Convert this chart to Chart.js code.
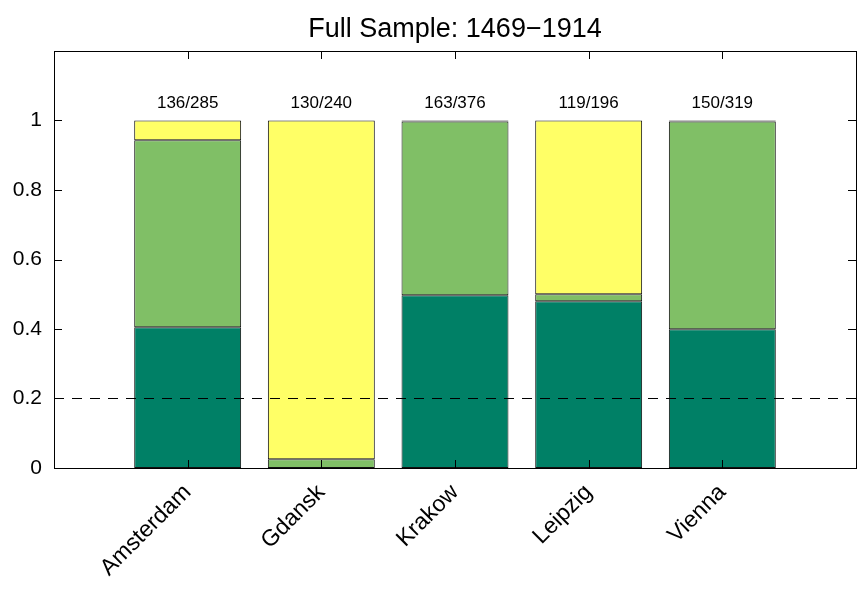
<!DOCTYPE html>
<html>
<head>
<meta charset="utf-8">
<title>Full Sample: 1469-1914</title>
<script src="https://cdn.jsdelivr.net/npm/chart.js@4.4.1/dist/chart.umd.min.js"></script>
<style>
    html, body { margin: 0; padding: 0; background: #fff; }
    #wrap { position: relative; width: 867px; height: 597px; }
</style>
</head>
<body>
<div id="wrap"><canvas id="chart" width="867" height="597"></canvas></div>
<script>
const cities = ['Amsterdam', 'Gdansk', 'Krakow', 'Leipzig', 'Vienna'];
const countLabels = ['136/285', '130/240', '163/376', '119/196', '150/319'];
const darkShare = [0.405, 0, 0.497, 0.48, 0.399];
const midShare = [0.538, 0.025, 0.5, 0.02, 0.598];
const topShare = [0.057, 0.975, 0.003, 0.5, 0.003];
const yTicks = [0, 0.2, 0.4, 0.6, 0.8, 1];
const refLevel = 0.2;

(function () {
    'use strict';

    const FONT = 'Liberation Sans, Arial, Helvetica, sans-serif';

    function points(values) {
        return values.map((v, i) => ({ x: i + 1, y: v }));
    }

    function barSet(label, values, color) {
        return {
            type: 'bar',
            label,
            data: points(values),
            backgroundColor: color,
            borderColor: '#111',
            borderWidth: 1,
            borderSkipped: false,
            barPercentage: 0.8,
            categoryPercentage: 1,
            order: 1
        };
    }

    // box, inward ticks and the count labels above the bars
    const frame = {
        id: 'frame',
        afterDatasetsDraw(chart) {
            const { ctx, chartArea: a, scales } = chart;
            const xs = scales.x, ys = scales.y;
            const len = 8;
            ctx.save();
            ctx.strokeStyle = '#000';
            ctx.lineWidth = 1;
            ctx.beginPath();
            yTicks.forEach(v => {
                const py = Math.round(ys.getPixelForValue(v)) + 0.5;
                ctx.moveTo(a.left, py); ctx.lineTo(a.left + len, py);
                ctx.moveTo(a.right, py); ctx.lineTo(a.right - len, py);
            });
            cities.forEach((_, i) => {
                const px = Math.round(xs.getPixelForValue(i + 1)) + 0.5;
                ctx.moveTo(px, a.top); ctx.lineTo(px, a.top + len);
                ctx.moveTo(px, a.bottom); ctx.lineTo(px, a.bottom - len);
            });
            ctx.stroke();
            ctx.strokeRect(Math.round(a.left) + 0.5, Math.round(a.top) + 0.5,
                Math.round(a.right - a.left), Math.round(a.bottom - a.top));

            ctx.fillStyle = '#000';
            ctx.font = '17px ' + FONT;
            ctx.textAlign = 'center';
            ctx.textBaseline = 'middle';
            countLabels.forEach((t, i) => {
                ctx.fillText(t, xs.getPixelForValue(i + 1), ys.getPixelForValue(1) - 17);
            });
            ctx.restore();
        }
    };

    new Chart(document.getElementById('chart'), {
        type: 'bar',
        data: {
            datasets: [
                barSet('low', darkShare, '#008066'),
                barSet('mid', midShare, '#80BF66'),
                barSet('high', topShare, '#FFFF66'),
                {
                    type: 'line',
                    label: 'ref',
                    data: [{ x: 0, y: refLevel }, { x: 6, y: refLevel }],
                    borderColor: '#000',
                    borderWidth: 1,
                    borderDash: [10, 8],
                    pointRadius: 0,
                    fill: false,
                    order: 0
                }
            ]
        },
        options: {
            responsive: false,
            animation: false,
            layout: { padding: { left: 0, right: 11, top: 0, bottom: 0 } },
            plugins: {
                legend: { display: false },
                tooltip: { enabled: false },
                title: {
                    display: true,
                    fullSize: false,
                    text: 'Full Sample: 1469\u22121914',
                    color: '#000',
                    font: { family: FONT, size: 27, weight: 'normal', lineHeight: 1.2 },
                    padding: { top: 13, bottom: 5.6 }
                }
            },
            scales: {
                x: {
                    type: 'linear',
                    offset: false,
                    stacked: true,
                    min: 0,
                    max: 6,
                    grid: { display: false },
                    border: { display: false },
                    afterFit(scale) {
                        scale.height = 129;
                        scale.paddingLeft = 0;
                        scale.paddingRight = 0;
                    },
                    ticks: {
                        stepSize: 1,
                        autoSkip: false,
                        minRotation: 45,
                        maxRotation: 45,
                        padding: 3,
                        color: '#000',
                        font: { family: FONT, size: 23 },
                        callback: v => cities[v - 1] || ''
                    }
                },
                y: {
                    stacked: true,
                    min: 0,
                    max: 1.2,
                    grid: { display: false },
                    border: { display: false },
                    afterFit(scale) { scale.width = 54; },
                    ticks: {
                        stepSize: 0.2,
                        padding: 4,
                        color: '#000',
                        font: { family: FONT, size: 21 },
                        callback: v => (v > 1.01 ? '' : String(Number(v.toFixed(1))))
                    }
                }
            }
        },
        plugins: [frame]
    });
})();
</script>
</body>
</html>
